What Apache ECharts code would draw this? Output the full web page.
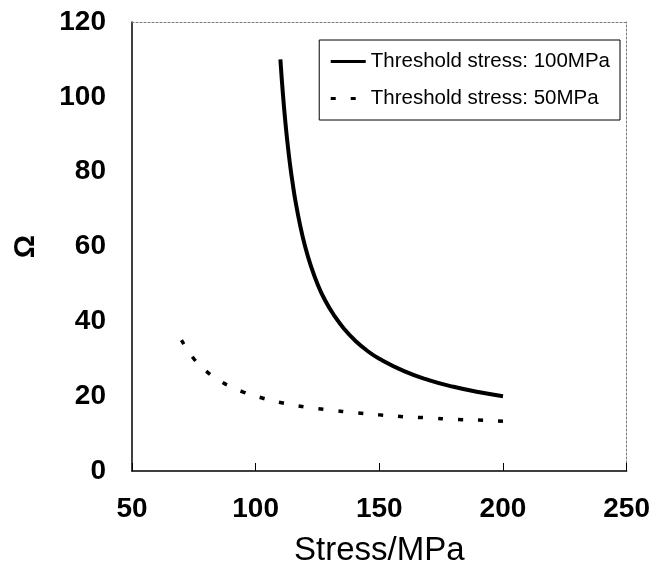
<!DOCTYPE html>
<html>
<head>
<meta charset="utf-8">
<script src="https://cdn.jsdelivr.net/npm/echarts@6/dist/echarts.min.js"></script>
<style>html,body{margin:0;padding:0;background:#fff;}#c{width:653px;height:576px;}</style>
</head>
<body>
<div id="c"></div>
<script>
// Data
var stress100 = [110, 111, 112, 113, 114, 115, 116, 118, 120, 122, 125, 128, 132, 136, 140, 145, 150, 160, 170, 180, 190, 200];
var omega100  = [110, 100.9, 93.3, 86.9, 81.4, 76.7, 72.5, 65.6, 60, 55.5, 50, 45.7, 41.3, 37.8, 35, 32.2, 30, 26.7, 24.3, 22.5, 21.1, 20];
var stress50  = [70, 75, 80, 85, 90, 95, 100, 110, 120, 130, 140, 150, 160, 170, 180, 190, 200];
var omega50   = [35, 30, 26.7, 24.3, 22.5, 21.1, 20, 18.3, 17.1, 16.3, 15.6, 15, 14.5, 14.2, 13.8, 13.6, 13.3];
var seriesNames = ['Threshold stress: 100MPa', 'Threshold stress: 50MPa'];
var xTicks = [50, 100, 150, 200, 250];
var yTicks = [0, 20, 40, 60, 80, 100, 120];

function pairs(xs, ys) { return xs.map(function (x, i) { return [x, ys[i]]; }); }

var font = 'Liberation Sans, Arial, sans-serif';
var chart = echarts.init(document.getElementById('c'), null, { renderer: 'canvas' });
chart.setOption({
  backgroundColor: '#fff',
  animation: false,
  grid: { left: 132, right: 26, top: 22, bottom: 105, containLabel: false },
  legend: {
    data: seriesNames,
    orient: 'vertical',
    right: 33,
    top: 40,
    backgroundColor: '#fff',
    borderColor: '#000',
    borderWidth: 1,
    borderRadius: 0,
    padding: [11, 10, 11, 10],
    itemGap: 16,
    itemWidth: 35,
    itemHeight: 14,
    itemStyle: { color: 'rgba(0,0,0,0)', borderColor: 'rgba(0,0,0,0)', borderWidth: 0 },
    lineStyle: { width: 3 },
    textStyle: { fontFamily: font, fontSize: 20.5, color: '#000' }
  },
  xAxis: [{
    type: 'value', min: 50, max: 250, interval: 50,
    name: 'Stress/MPa', nameLocation: 'middle', nameGap: 63,
    nameTextStyle: { fontFamily: font, fontSize: 33, color: '#000' },
    axisLine: { show: true, onZero: false, lineStyle: { color: '#000', width: 1.5 } },
    axisTick: { show: true, inside: true, length: 8, lineStyle: { color: '#000' } },
    axisLabel: { fontFamily: font, fontSize: 28, fontWeight: 'bold', color: '#000', margin: 24 },
    splitLine: { show: false }
  }, {
    type: 'value', min: 50, max: 250, interval: 50, position: 'top',
    axisLine: { show: true, onZero: false, lineStyle: { color: '#777', width: 1, type: [2, 2] } },
    axisTick: { show: false }, axisLabel: { show: false }, splitLine: { show: false }
  }],
  yAxis: [{
    type: 'value', min: 0, max: 120, interval: 20,
    name: 'Ω', nameLocation: 'middle', nameGap: 92, nameRotate: 90,
    nameTextStyle: { fontFamily: font, fontSize: 29, fontWeight: 'bold', color: '#000' },
    axisLine: { show: true, onZero: false, lineStyle: { color: '#000', width: 1.5 } },
    axisTick: { show: false },
    axisLabel: { fontFamily: font, fontSize: 28, fontWeight: 'bold', color: '#000', margin: 26 },
    splitLine: { show: false }
  }, {
    type: 'value', min: 0, max: 120, interval: 20, position: 'right',
    axisLine: { show: true, onZero: false, lineStyle: { color: '#777', width: 1, type: [2, 2] } },
    axisTick: { show: false }, axisLabel: { show: false }, splitLine: { show: false }
  }],
  series: [{
    name: seriesNames[0], type: 'line', data: pairs(stress100, omega100),
    smooth: true, showSymbol: false, symbol: 'none',
    lineStyle: { color: '#000', width: 4 }, itemStyle: { color: '#000' }
  }, {
    name: seriesNames[1], type: 'line', data: pairs(stress50, omega50),
    smooth: true, showSymbol: false, symbol: 'none',
    lineStyle: { color: '#000', width: 3.5, type: [5, 15] }, itemStyle: { color: '#000' }
  }]
});
</script>
</body>
</html>
